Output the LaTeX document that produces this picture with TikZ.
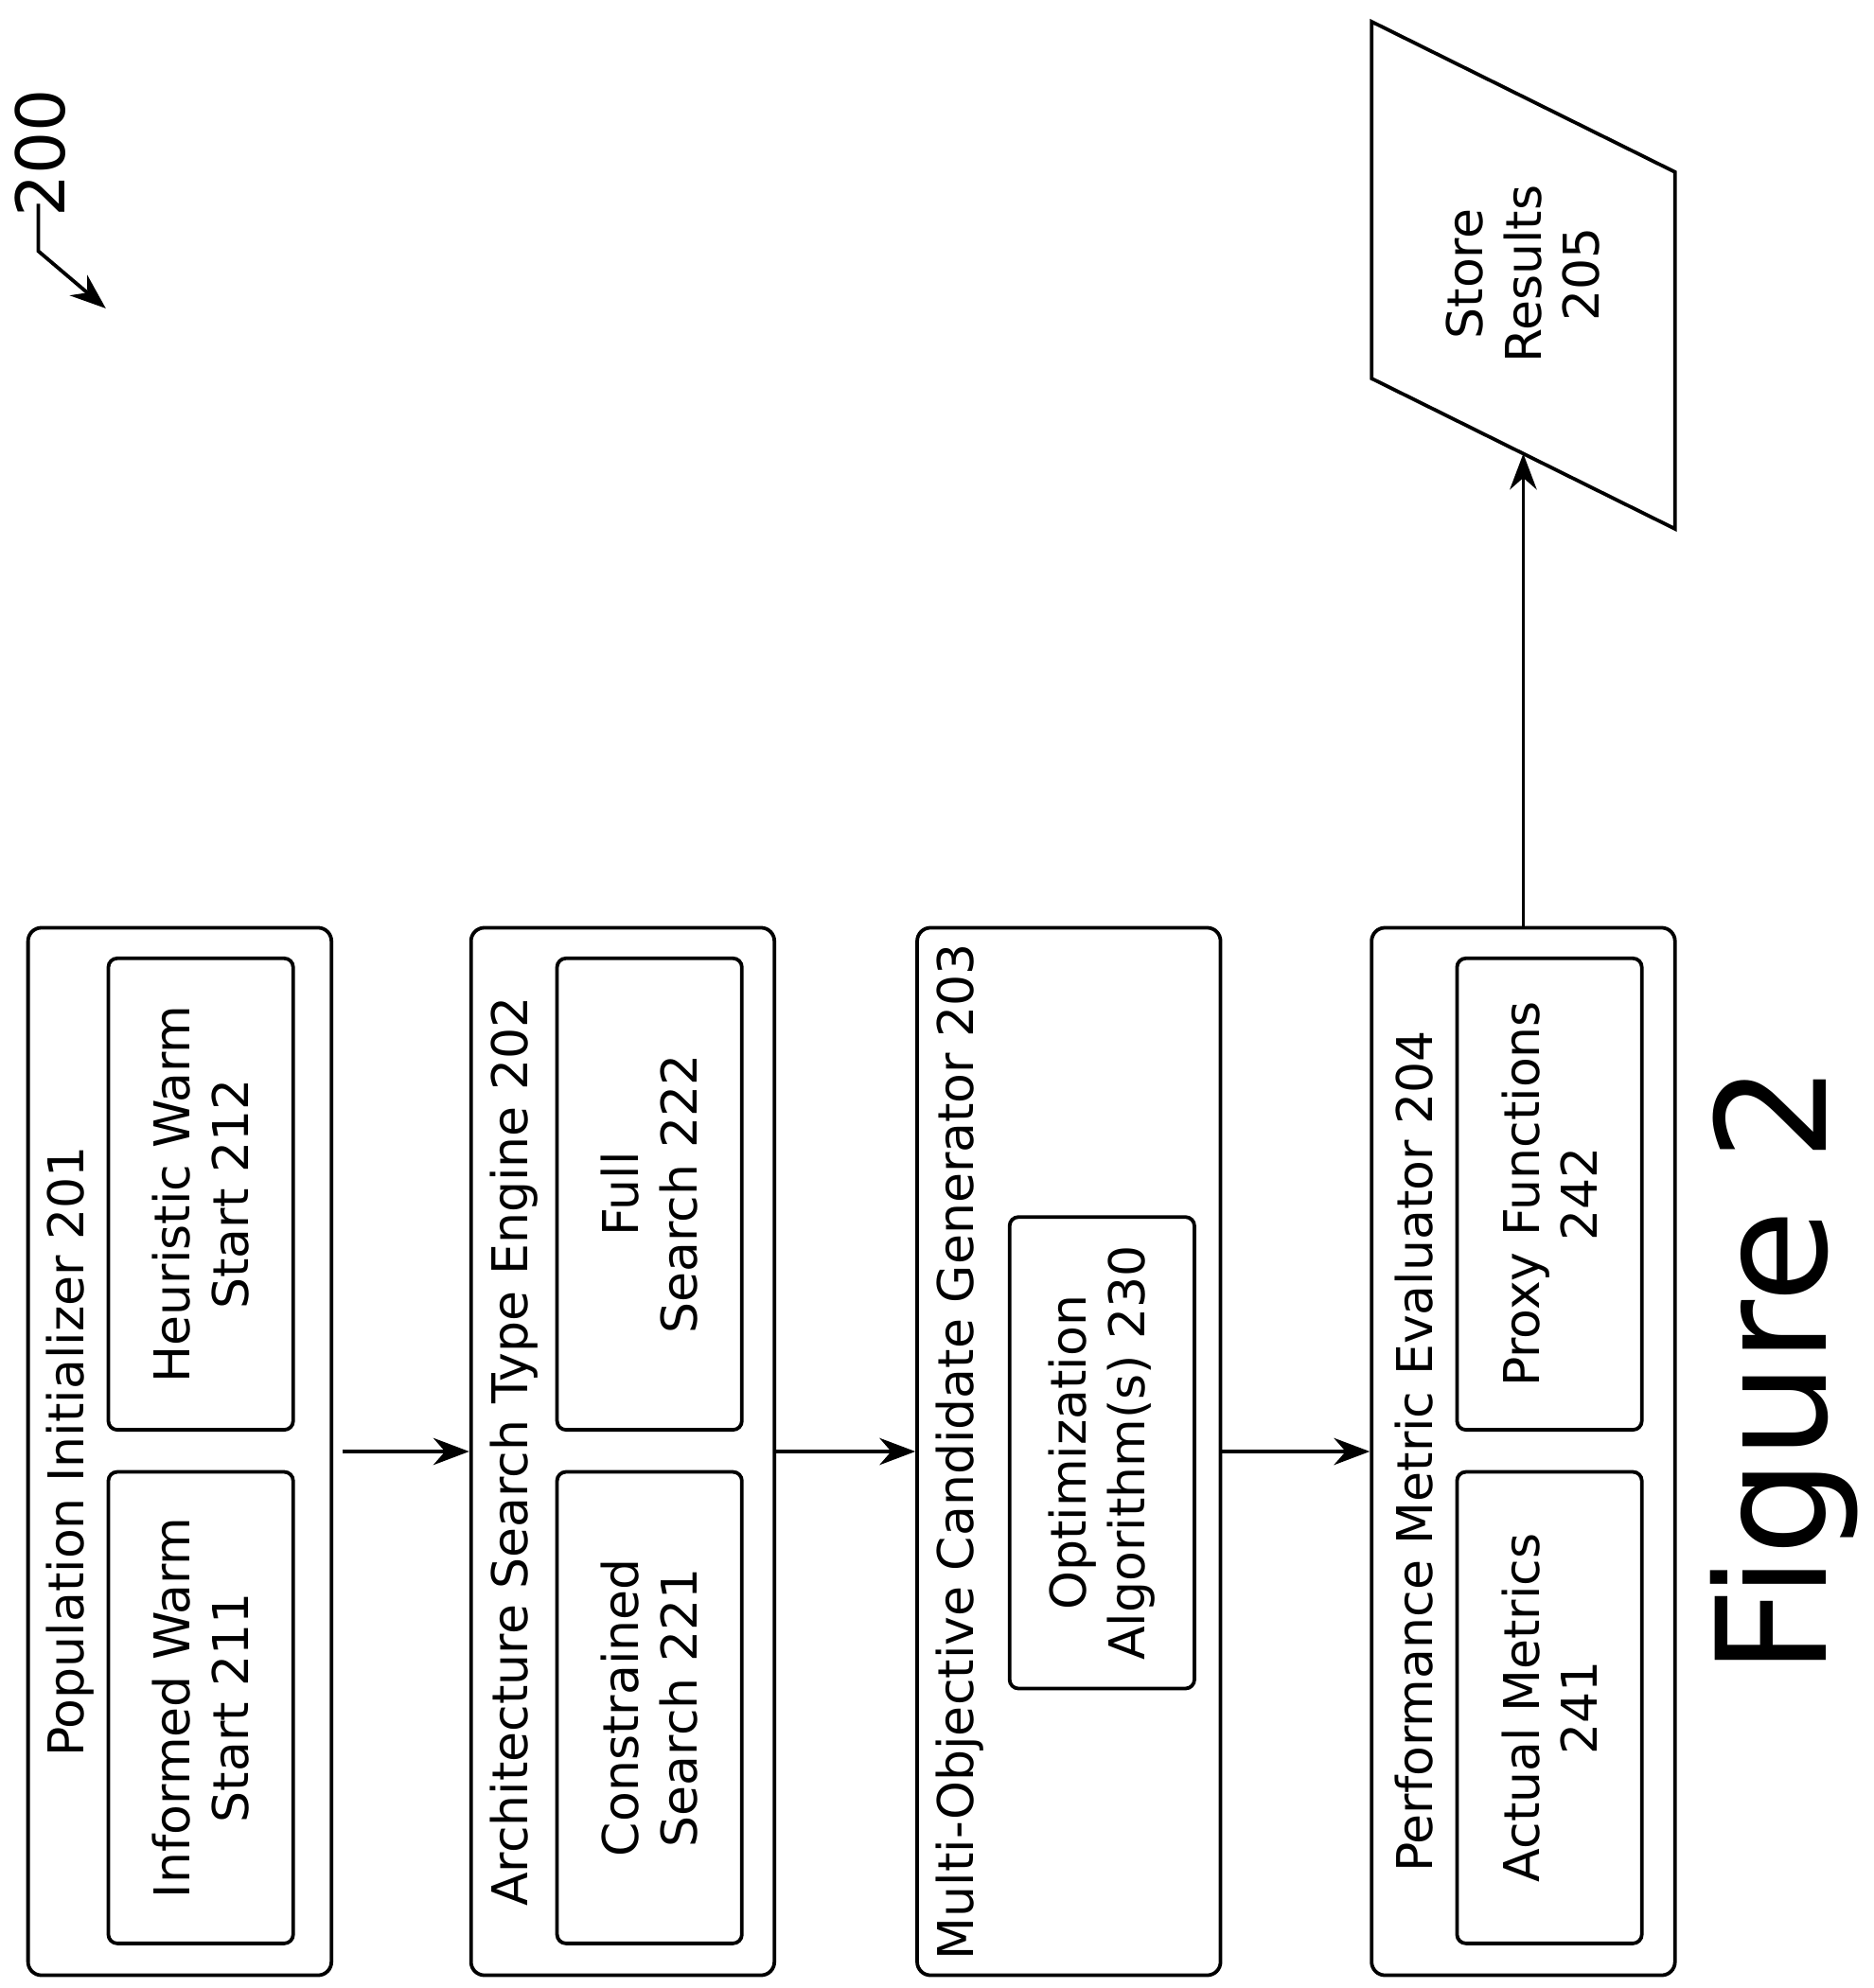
\documentclass[tikz,border=0pt]{standalone}
\usepackage{fontspec}
\setmainfont{DejaVu Sans}
\usetikzlibrary{arrows.meta}
\tikzset{
  outer/.style={draw, thick, rounded corners=3pt, rotate=90, minimum width=8.22cm, minimum height=2.38cm},
  inner/.style={draw, thick, rounded corners=2pt, rotate=90, minimum width=3.7cm, minimum height=1.45cm, align=center, font=\fontsize{11}{13}\selectfont},
  title/.style={rotate=90, font=\fontsize{11}{13}\selectfont},
  flow/.style={thick, -{Stealth[length=8pt,width=6pt]}}
}
\begin{document}
\begin{tikzpicture}
   \useasboundingbox (0,0) rectangle (14.7,-15.6);
   % stages
   \node[outer] (init)   at (1.41,-11.39) {};
   \node[outer] (engine) at (4.885,-11.39) {};
   \node[outer] (gen)    at (8.385,-11.39) {};
   \node[outer] (eval)   at (11.95,-11.39) {};
   \node[title] at (0.55,-11.39) {Population Initializer 201};
   \node[title] at (4.03,-11.39) {Architecture Search Type Engine 202};
   \node[title] at (7.53,-11.39) {Multi-Objective Candidate Generator 203};
   \node[title] at (11.09,-11.39) {Performance Metric Evaluator 204};
   % sub-blocks
   \node[inner] (informed)  at (1.575,-13.40) {Informed Warm\\Start 211};
   \node[inner] (heuristic) at (1.575,-9.37)  {Heuristic Warm\\Start 212};
   \node[inner] (constr)    at (5.095,-13.40) {Constrained\\Search 221};
   \node[inner] (full)      at (5.095,-9.37)  {Full\\Search 222};
   \node[inner] (optim)     at (8.645,-11.40) {Optimization\\Algorithm(s) 230};
   \node[inner] (actual)    at (12.155,-13.40) {Actual Metrics\\241};
   \node[inner] (proxy)     at (12.155,-9.37)  {Proxy Functions\\242};
   % store
   \draw[thick] (10.76,-0.17) -- (13.14,-1.35) -- (13.14,-4.15) -- (10.76,-2.97) -- cycle;
   \node[title, align=center] (store) at (11.95,-2.15) {Store\\Results\\205};
   \coordinate (storein) at (11.95,-3.56);
   % connectors
   \draw[flow] ([xshift=2pt]init.south) -- (engine.north);
   \draw[flow] (engine.south) -- (gen.north);
   \draw[flow] (gen.south) -- (eval.north);
   \draw[flow] (eval.east) -- (storein);
   % reference label
   \node[title, font=\fontsize{15}{17}\selectfont] (ref) at (0.32,-1.2) {200};
   \coordinate (refarrow) at (0.83,-2.42);
   \draw[thick, -{Stealth[length=8pt,width=6pt]}] (0.3,-1.6) -- (0.3,-1.97) -- (refarrow);
   \node[title, font=\fontsize{34}{38}\selectfont] (fig) at (14.0,-10.75) {Figure 2};
\end{tikzpicture}
\end{document}
